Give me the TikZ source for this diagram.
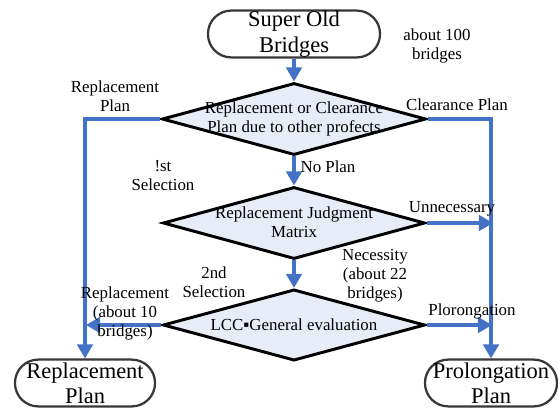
\documentclass[tikz,border=0pt]{standalone}
\usepackage{fontspec}
\setmainfont{Liberation Serif}
\usetikzlibrary{arrows.meta,shapes.geometric}
\definecolor{flowblue}{RGB}{68,114,196}
\definecolor{flowfill}{RGB}{231,236,247}
\definecolor{flowgray}{RGB}{55,55,55}
\tikzset{
  terminal/.style={draw=flowgray, line width=1.6pt, fill=white, rounded corners=0.58cm,
    minimum height=1.17cm, inner sep=0pt, align=center, font=\fontsize{16}{18}\selectfont},
  decision/.style={draw=black, line width=2.1pt, fill=flowfill, diamond, aspect=3.6,
    minimum width=6.6cm, minimum height=1.8cm, inner sep=0pt},
  dtext/.style={align=center, font=\fontsize{12}{13.5}\selectfont, inner sep=0pt},
  note/.style={align=center, font=\fontsize{12}{13.5}\selectfont, inner sep=0pt},
  flow/.style={draw=flowblue, line width=2.4pt, -{Triangle[length=10pt,width=11pt]}}
}

\begin{document}
\begin{tikzpicture}[x=0.025cm, y=-0.025cm]
  \useasboundingbox (0,0) rectangle (558,408);

  % Terminals
  \node[terminal, minimum width=4.3cm] (old) at (294,34) {Super Old\\Bridges};
  \node[terminal, minimum width=3.5cm] (repplan) at (85,383) {Replacement\\Plan};
  \node[terminal, minimum width=3.3cm] (proplan) at (491,383) {Prolongation\\Plan};

  % Decisions
  \node[decision] (q1) at (294,119) {};
  \node[dtext] (q1text) at (q1) {Replacement or Clearance\\Plan due to other profects};
  \node[decision, minimum width=6.55cm] (q2) at (294,223) {};
  \node[dtext] (q2text) at (294,222) {Replacement Judgment\\Matrix};
  \node[decision, minimum width=6.55cm, minimum height=1.78cm] (q3) at (294,325) {};
  \node[dtext] (q3text) at (q3) {LCC▪General evaluation};

  % Free ends of the side arrows
  \coordinate (unnec) at (493,223);
  \coordinate (prolong) at (492,325);
  \coordinate (replace) at (86,325);

  % Connectors
  \draw[flow] (old.south) -- (q1.north);
  \draw[flow] (q1.south) -- (q2.north);
  \draw[flow] (q2.south) -- (q3.north);
  \draw[flow] (q1.west) -| (repplan.north);
  \draw[flow] (q1.east) -| (proplan.north);
  \draw[flow] (q2.east) -- (unnec);
  \draw[flow] (q3.east) -- (prolong);
  \draw[flow] (q3.west) -- (replace);

  % Labels
  \node[note] (count) at (437,46) {about 100\\bridges};
  \node[note] (lrep) at (115,96) {Replacement\\Plan};
  \node[note] (lclear) at (457,105) {Clearance Plan};
  \node[note] (lfirst) at (163,176) {!st\\Selection};
  \node[note] (lnoplan) at (328,167) {No Plan};
  \node[note] (lunnec) at (452,209) {Unnecessary};
  \node[note] (lneed) at (375,276) {Necessity\\(about 22\\bridges)};
  \node[note] (lsecond) at (214,282) {2nd\\Selection};
  \node[note] (lrepten) at (125,313) {Replacement\\(about 10\\bridges)};
  \node[note] (lprol) at (472,311) {Plorongation};
\end{tikzpicture}
\end{document}
